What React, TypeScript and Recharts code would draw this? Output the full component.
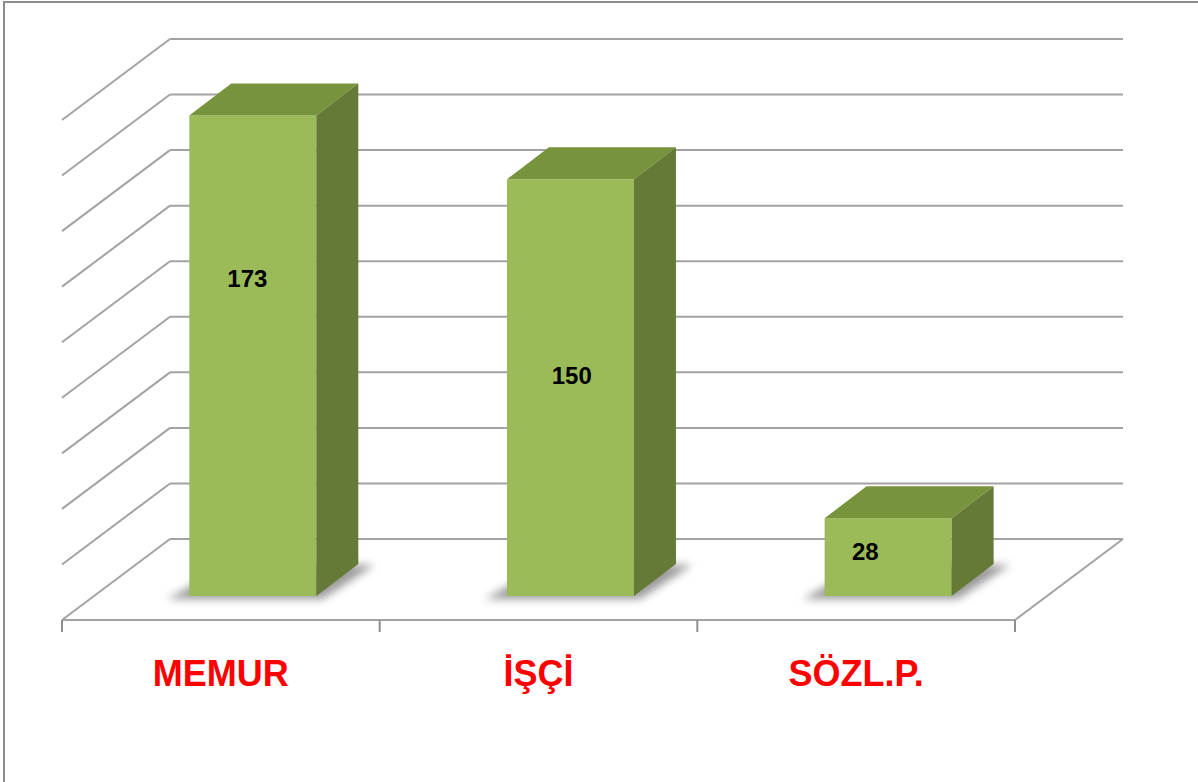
import React from "react";
import { BarChart, Bar, XAxis, YAxis, CartesianGrid, LabelList } from "recharts";

// ---- data ----
const categories = ["MEMUR", "İŞÇİ", "SÖZL.P."];
const values = [173, 150, 28];
const yTicks = [0, 20, 40, 60, 80, 100, 120, 140, 160, 180];

const data = categories.map((name, i) => ({ name, value: values[i] }));

// ---- layout / style constants ----
const W = 1198;
const H = 782;
const XAXIS_H = 40;
const MARGIN = { top: 96, left: 94, right: 151, bottom: 782 - 596 - XAXIS_H };
const PLOT_BOTTOM = H - MARGIN.bottom - XAXIS_H;

// perspective offsets relative to the plane of the bars' front faces
const FRONT_DX = -32;
const FRONT_DY = 24;
const BACK_DX = 76;
const BACK_DY = -57;
// bar depth
const BAR_DX = 42;
const BAR_DY = -32;

const GRID_COLOR = "#a3a3a3";
const FRONT_COLOR = "#9BBB59";
const TOP_COLOR = "#77933C";
const SIDE_COLOR = "#657A37";

// label placement inside the bar front (fractions of width / height)
const LABEL_FX = [0.457, 0.51, 0.32];
const LABEL_FY = [0.34, 0.47, 0.43];

const renderGridLine = (props: any) => {
  const { x1, x2, y1 } = props;
  const y = y1;
  const isZero = Math.abs(y - PLOT_BOTTOM) < 1;
  const lineProps = { stroke: GRID_COLOR, strokeWidth: 2, fill: "none" };
  const n = categories.length;
  const step = (x2 - x1) / n;
  return (
    <g key={props.key}>
      <line x1={x1 + BACK_DX} y1={y + BACK_DY} x2={x2 + BACK_DX} y2={y + BACK_DY} {...lineProps} />
      <line x1={x1 + FRONT_DX} y1={y + FRONT_DY} x2={x1 + BACK_DX} y2={y + BACK_DY} {...lineProps} />
      {isZero && (
        <g>
          <line x1={x1 + FRONT_DX} y1={y + FRONT_DY} x2={x2 + FRONT_DX} y2={y + FRONT_DY} {...lineProps} />
          <line x1={x2 + FRONT_DX} y1={y + FRONT_DY} x2={x2 + BACK_DX} y2={y + BACK_DY} {...lineProps} />
          {Array.from({ length: n + 1 }).map((_, k) => (
            <line
              key={k}
              x1={x1 + FRONT_DX + k * step}
              y1={y + FRONT_DY}
              x2={x1 + FRONT_DX + k * step}
              y2={y + FRONT_DY + 12}
              stroke="#8f8f8f"
              strokeWidth={2}
            />
          ))}
        </g>
      )}
    </g>
  );
};

const Bar3D = (props: any) => {
  const { x, y, width: w, height: h, index } = props;
  const yb = y + h;
  const fid = `shadowBlur${index}`;
  const shadow = [
    [x - 22, yb + 3],
    [x + w + 6, yb + 3],
    [x + w + BAR_DX + 16, yb + BAR_DY + 1],
    [x + BAR_DX, yb + BAR_DY],
  ]
    .map((p) => p.join(","))
    .join(" ");
  const top = [
    [x, y],
    [x + BAR_DX, y + BAR_DY],
    [x + w + BAR_DX, y + BAR_DY],
    [x + w, y],
  ]
    .map((p) => p.join(","))
    .join(" ");
  const side = [
    [x + w, y],
    [x + w + BAR_DX, y + BAR_DY],
    [x + w + BAR_DX, yb + BAR_DY],
    [x + w, yb],
  ]
    .map((p) => p.join(","))
    .join(" ");
  return (
    <g>
      <defs>
        <filter id={fid} x="-30%" y="-30%" width="160%" height="160%">
          <feGaussianBlur stdDeviation={4} />
        </filter>
      </defs>
      <polygon points={shadow} fill="#6f6f6f" opacity={0.7} filter={`url(#${fid})`} />
      <rect x={x} y={y} width={w} height={h} fill={FRONT_COLOR} />
      <polygon points={top} fill={TOP_COLOR} />
      <polygon points={side} fill={SIDE_COLOR} />
    </g>
  );
};

const ValueLabel = (props: any) => {
  const { x, y, width, height, value, index } = props;
  return (
    <text
      x={x + width * LABEL_FX[index]}
      y={y + height * LABEL_FY[index]}
      textAnchor="middle"
      dominantBaseline="central"
      fontFamily="'Liberation Sans', Arial, sans-serif"
      fontWeight="bold"
      fontSize={24}
      fill="#000"
    >
      {value}
    </text>
  );
};

const CategoryTick = (props: any) => {
  const { x, y, payload } = props;
  return (
    <text
      x={x + FRONT_DX}
      y={y + 90}
      textAnchor="middle"
      fontFamily="'Liberation Sans', Arial, sans-serif"
      fontWeight="bold"
      fontSize={36}
      fill="#FF0000"
    >
      {payload.value}
    </text>
  );
};

export default function App() {
  return (
    <div
      style={{
        position: "absolute",
        left: 0,
        top: 0,
        width: W,
        height: H,
        overflow: "hidden",
        background: "#fff",
      }}
    >
      <BarChart width={W} height={H} data={data} margin={MARGIN} barCategoryGap="30%">
        <CartesianGrid vertical={false} horizontal={renderGridLine} />
        <YAxis hide domain={[0, 180]} ticks={yTicks} type="number" />
        <XAxis
          dataKey="name"
          height={XAXIS_H}
          axisLine={false}
          tickLine={false}
          tickSize={0}
          tickMargin={0}
          interval={0}
          tick={CategoryTick}
        />
        <Bar dataKey="value" shape={Bar3D} isAnimationActive={false}>
          <LabelList dataKey="value" content={ValueLabel} />
        </Bar>
      </BarChart>
      <div
        style={{
          position: "absolute",
          left: 3,
          top: 1,
          width: 1300,
          height: 900,
          borderTop: "2px solid #8c8c8c",
          borderLeft: "2px solid #8c8c8c",
          pointerEvents: "none",
        }}
      />
    </div>
  );
}
